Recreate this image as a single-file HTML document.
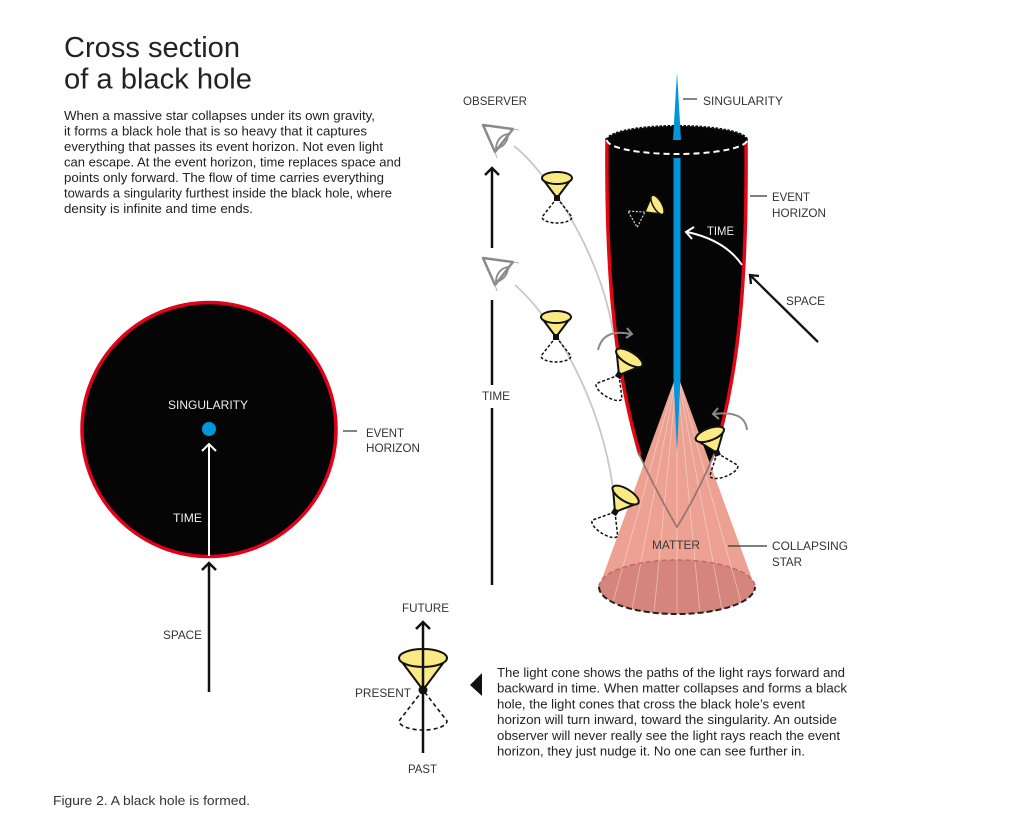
<!DOCTYPE html>
<html><head><meta charset="utf-8"><style>
html,body{margin:0;padding:0;background:#fff;}
svg{display:block;}
text{font-family:"Liberation Sans",Arial,sans-serif;}
</style></head><body>
<svg width="1024" height="816" viewBox="0 0 1024 816" xmlns="http://www.w3.org/2000/svg">
<rect width="1024" height="816" fill="#fff"/>

<!-- Title -->
<text x="64" y="57" font-size="29" fill="#222" textLength="176" lengthAdjust="spacingAndGlyphs">Cross section</text>
<text x="64" y="88.5" font-size="29" fill="#222" textLength="188" lengthAdjust="spacingAndGlyphs">of a black hole</text>

<g font-size="13" fill="#222">
<text x="64" y="120" textLength="311" lengthAdjust="spacingAndGlyphs">When a massive star collapses under its own gravity,</text>
<text x="64" y="135.5" textLength="303" lengthAdjust="spacingAndGlyphs">it forms a black hole that is so heavy that it captures</text>
<text x="64" y="151" textLength="319" lengthAdjust="spacingAndGlyphs">everything that passes its event horizon. Not even light</text>
<text x="64" y="166.5" textLength="337" lengthAdjust="spacingAndGlyphs">can escape. At the event horizon, time replaces space and</text>
<text x="64" y="182" textLength="320" lengthAdjust="spacingAndGlyphs">points only forward. The flow of time carries everything</text>
<text x="64" y="197.5" textLength="328" lengthAdjust="spacingAndGlyphs">towards a singularity furthest inside the black hole, where</text>
<text x="64" y="213" textLength="189" lengthAdjust="spacingAndGlyphs">density is infinite and time ends.</text>
</g>

<!-- Left circle -->
<circle cx="209" cy="429.5" r="127" fill="#050505" stroke="#e2001a" stroke-width="3.5"/>
<circle cx="209" cy="429" r="7" fill="#0096db"/>
<line x1="209" y1="556" x2="209" y2="445" stroke="#fff" stroke-width="2"/>
<polyline points="202,451 209,444 216,451" fill="none" stroke="#fff" stroke-width="2"/>
<line x1="209" y1="692" x2="209" y2="564" stroke="#111" stroke-width="2.5"/>
<polyline points="202,570 209,563 216,570" fill="none" stroke="#111" stroke-width="2.5"/>
<g font-size="12">
<text x="168" y="409" fill="#eee" textLength="80" lengthAdjust="spacingAndGlyphs">SINGULARITY</text>
<text x="173" y="522" fill="#eee" textLength="29" lengthAdjust="spacingAndGlyphs">TIME</text>
<text x="163" y="639" fill="#333" textLength="39" lengthAdjust="spacingAndGlyphs">SPACE</text>
<text x="366" y="437" fill="#333" textLength="38" lengthAdjust="spacingAndGlyphs">EVENT</text>
<text x="366" y="452" fill="#333" textLength="54" lengthAdjust="spacingAndGlyphs">HORIZON</text>
</g>
<line x1="343" y1="431" x2="357" y2="431" stroke="#333" stroke-width="1.2"/>

<!-- Observer column -->
<text x="463" y="105" font-size="12" fill="#333" textLength="64" lengthAdjust="spacingAndGlyphs">OBSERVER</text>
<line x1="492" y1="248" x2="492" y2="169" stroke="#111" stroke-width="2.5"/>
<polyline points="485,175 492,168 499,175" fill="none" stroke="#111" stroke-width="2.5"/>
<line x1="492" y1="300" x2="492" y2="385" stroke="#111" stroke-width="2.5"/>
<line x1="492" y1="408" x2="492" y2="585" stroke="#111" stroke-width="2.5"/>
<text x="482" y="400" font-size="12" fill="#333" textLength="28" lengthAdjust="spacingAndGlyphs">TIME</text>

<!-- Eyes -->
<g transform="translate(483,125)" fill="none" stroke="#8a8a8a">
<polygon points="0,0 30,4 12,27" stroke-width="2.5" stroke-linejoin="round"/>
<line x1="30" y1="4" x2="36" y2="5" stroke="#b0b0b0" stroke-width="1"/>
<line x1="12" y1="27" x2="14" y2="33" stroke="#b0b0b0" stroke-width="1"/>
<path d="M13,24 C13,16 18,10 25,9 C25,17 20,22 13,24 Z" stroke-width="1.8"/>
</g>
<g transform="translate(483,258)" fill="none" stroke="#8a8a8a">
<polygon points="0,0 30,4 12,27" stroke-width="2.5" stroke-linejoin="round"/>
<line x1="30" y1="4" x2="36" y2="5" stroke="#b0b0b0" stroke-width="1"/>
<line x1="12" y1="27" x2="14" y2="33" stroke="#b0b0b0" stroke-width="1"/>
<path d="M13,24 C13,16 18,10 25,9 C25,17 20,22 13,24 Z" stroke-width="1.8"/>
</g>

<!-- Black hole funnel -->
<path d="M607,140 C606,260 612,360 640,455 Q658,495 677,527 Q696,495 716,448 C742,360 747,260 746,140 Z" fill="#050505"/>
<path d="M607,138 C606,260 612,360 640,455" fill="none" stroke="#e30613" stroke-width="3.5"/>
<path d="M746,138 C747,260 742,360 716,448" fill="none" stroke="#e30613" stroke-width="3.5"/>
<ellipse cx="677" cy="140" rx="70" ry="14" fill="#050505"/>
<path d="M607,140 A70,14 0 0 1 747,140" fill="none" stroke="#111" stroke-width="2.2" stroke-dasharray="2.5,1.5"/>
<path d="M607,140 A70,14 0 0 0 747,140" fill="none" stroke="#fff" stroke-width="2" stroke-dasharray="6,4"/>

<!-- Pink collapsing star -->
<path d="M677,373 L599,587 A78,27 0 0 0 755,587 Z" fill="#eca192"/>
<ellipse cx="677" cy="587" rx="78" ry="27" fill="#d6857c"/>
<g stroke="#fff" stroke-opacity="0.4" stroke-width="0.9">
<line x1="677" y1="373" x2="613" y2="602"/>
<line x1="677" y1="373" x2="632" y2="609"/>
<line x1="677" y1="373" x2="654" y2="613"/>
<line x1="677" y1="373" x2="677" y2="614"/>
<line x1="677" y1="373" x2="700" y2="613"/>
<line x1="677" y1="373" x2="722" y2="609"/>
<line x1="677" y1="373" x2="741" y2="602"/>
</g>
<path d="M599,587 A78,27 0 0 1 755,587" fill="none" stroke="#bd6d65" stroke-width="1.5" stroke-dasharray="5,3"/>
<path d="M599,587 A78,27 0 0 0 755,587" fill="none" stroke="#222" stroke-width="2" stroke-dasharray="6,3"/>
<path d="M638,452 Q658,495 677,527 Q697,495 717,448" fill="none" stroke="#8d6e6b" stroke-width="1.8" stroke-opacity="0.85"/>

<!-- Singularity -->
<polygon points="677,72 681,140 673,140" fill="#0096db"/>
<path d="M673.5,158 L680.5,158 L680.5,378 L677,452 L673.5,378 Z" fill="#0096db"/>

<!-- Funnel labels & arrows -->
<line x1="683" y1="99" x2="697" y2="99" stroke="#333" stroke-width="1.2"/>
<text x="703" y="105" font-size="12" fill="#333" textLength="80" lengthAdjust="spacingAndGlyphs">SINGULARITY</text>
<line x1="750" y1="196" x2="767" y2="196" stroke="#333" stroke-width="1.2"/>
<text x="772" y="201" font-size="12" fill="#333" textLength="38" lengthAdjust="spacingAndGlyphs">EVENT</text>
<text x="772" y="217" font-size="12" fill="#333" textLength="54" lengthAdjust="spacingAndGlyphs">HORIZON</text>
<text x="707" y="235" font-size="12" fill="#eee" textLength="27" lengthAdjust="spacingAndGlyphs">TIME</text>
<path d="M742,265 Q725,240 687,232" fill="none" stroke="#fff" stroke-width="2"/>
<polyline points="694,227 686,232 692,239" fill="none" stroke="#fff" stroke-width="2"/>
<line x1="818" y1="342" x2="751" y2="276" stroke="#111" stroke-width="2.3"/>
<polyline points="759,276 750,275 751,284" fill="none" stroke="#111" stroke-width="2.3"/>
<text x="786" y="305" font-size="12" fill="#333" textLength="39" lengthAdjust="spacingAndGlyphs">SPACE</text>
<text x="652" y="549" font-size="12" fill="#3a3a3a" textLength="48" lengthAdjust="spacingAndGlyphs">MATTER</text>
<line x1="728" y1="546" x2="767" y2="546" stroke="#333" stroke-width="1.2"/>
<text x="772" y="550" font-size="12" fill="#333" textLength="76" lengthAdjust="spacingAndGlyphs">COLLAPSING</text>
<text x="772" y="566" font-size="12" fill="#333" textLength="30" lengthAdjust="spacingAndGlyphs">STAR</text>

<!-- Observer light paths -->
<path d="M514,146 C545,170 600,250 613,332" fill="none" stroke="#c8c8c8" stroke-width="1.8"/>
<path d="M515,285 C550,315 605,400 615,505" fill="none" stroke="#c8c8c8" stroke-width="1.8"/>

<!-- Gray curved arrows -->
<path d="M598,350 Q603,328 631,334" fill="none" stroke="#8a8a8a" stroke-width="2"/>
<polyline points="627,328 632,334 626,338" fill="none" stroke="#8a8a8a" stroke-width="2"/>
<path d="M747,430 Q745,410 714,414" fill="none" stroke="#8a8a8a" stroke-width="2"/>
<polyline points="718,408 713,414 719,419" fill="none" stroke="#8a8a8a" stroke-width="2"/>

<!-- Light cones -->
<g transform="translate(557,198)">
<path d="M0,0 L-15,19 A15,6 0 0 0 15,19 L0,0" fill="none" stroke="#111" stroke-width="1.5" stroke-dasharray="3,2"/>
<path d="M-15,-20 L0,0 L15,-20 Z" fill="#fbe983" stroke="#111" stroke-width="2" stroke-linejoin="round"/>
<ellipse cx="0" cy="-20" rx="15" ry="6" fill="#fbe983" stroke="#111" stroke-width="2"/>
<rect x="-3" y="-3" width="6" height="6" fill="#111"/>
</g>
<g transform="translate(556,337)">
<path d="M0,0 L-15,19 A15,6 0 0 0 15,19 L0,0" fill="none" stroke="#111" stroke-width="1.5" stroke-dasharray="3,2"/>
<path d="M-15,-20 L0,0 L15,-20 Z" fill="#fbe983" stroke="#111" stroke-width="2" stroke-linejoin="round"/>
<ellipse cx="0" cy="-20" rx="15" ry="6" fill="#fbe983" stroke="#111" stroke-width="2"/>
<rect x="-3" y="-3" width="6" height="6" fill="#111"/>
</g>
<g transform="translate(645,212) rotate(60) scale(0.72)">
<path d="M0,0 L-13,20 L13,20 Z" fill="none" stroke="#cfcfcf" stroke-width="1.6" stroke-dasharray="3,2"/>
<path d="M-15,-20 L0,0 L15,-20 Z" fill="#fbe983" stroke="#111" stroke-width="2" stroke-linejoin="round"/>
<ellipse cx="0" cy="-20" rx="15" ry="6" fill="#fbe983" stroke="#111" stroke-width="2"/>
</g>
<g transform="translate(619,375) rotate(31)">
<path d="M0,0 L-15,19 A15,6 0 0 0 15,19 L0,0" fill="none" stroke="#111" stroke-width="1.5" stroke-dasharray="3,2"/>
<path d="M-15,-20 L0,0 L15,-20 Z" fill="#fbe983" stroke="#111" stroke-width="2" stroke-linejoin="round"/>
<ellipse cx="0" cy="-20" rx="15" ry="6" fill="#fbe983" stroke="#111" stroke-width="2"/>
<rect x="-3" y="-3" width="6" height="6" fill="#111"/>
</g>
<g transform="translate(717,453) rotate(-21)">
<path d="M0,0 L-15,19 A15,6 0 0 0 15,19 L0,0" fill="none" stroke="#111" stroke-width="1.5" stroke-dasharray="3,2"/>
<path d="M-15,-20 L0,0 L15,-20 Z" fill="#fbe983" stroke="#111" stroke-width="2" stroke-linejoin="round"/>
<ellipse cx="0" cy="-20" rx="15" ry="6" fill="#fbe983" stroke="#111" stroke-width="2"/>
<rect x="-3" y="-3" width="6" height="6" fill="#111"/>
</g>
<g transform="translate(615,512) rotate(32)">
<path d="M0,0 L-15,19 A15,6 0 0 0 15,19 L0,0" fill="none" stroke="#111" stroke-width="1.5" stroke-dasharray="3,2"/>
<path d="M-15,-20 L0,0 L15,-20 Z" fill="#fbe983" stroke="#111" stroke-width="2" stroke-linejoin="round"/>
<ellipse cx="0" cy="-20" rx="15" ry="6" fill="#fbe983" stroke="#111" stroke-width="2"/>
<rect x="-3" y="-3" width="6" height="6" fill="#111"/>
</g>

<!-- Legend cone -->
<path d="M423,690 L399,721 A24,9 0 0 0 447,721 L423,690" fill="none" stroke="#111" stroke-width="1.6" stroke-dasharray="4,3"/>
<path d="M399,658 L423,690 L447,658 Z" fill="#fbe983" stroke="#111" stroke-width="2" stroke-linejoin="round"/>
<ellipse cx="423" cy="658" rx="24" ry="9" fill="#fbe983" stroke="#111" stroke-width="2"/>
<line x1="423" y1="753" x2="423" y2="623" stroke="#111" stroke-width="2.5"/>
<polyline points="416,629 423,622 430,629" fill="none" stroke="#111" stroke-width="2.5"/>
<circle cx="423" cy="690" r="4.5" fill="#111"/>
<g font-size="12" fill="#333">
<text x="402" y="612" textLength="47" lengthAdjust="spacingAndGlyphs">FUTURE</text>
<text x="355" y="697" textLength="56" lengthAdjust="spacingAndGlyphs">PRESENT</text>
<text x="408" y="773" textLength="29" lengthAdjust="spacingAndGlyphs">PAST</text>
</g>
<polygon points="470,685 482,673 482,696" fill="#111"/>

<g font-size="13" fill="#222">
<text x="497" y="677" textLength="348" lengthAdjust="spacingAndGlyphs">The light cone shows the paths of the light rays forward and</text>
<text x="497" y="692.7" textLength="350" lengthAdjust="spacingAndGlyphs">backward in time. When matter collapses and forms a black</text>
<text x="497" y="708.4" textLength="308" lengthAdjust="spacingAndGlyphs">hole, the light cones that cross the black hole’s event</text>
<text x="497" y="724.1" textLength="340" lengthAdjust="spacingAndGlyphs">horizon will turn inward, toward the singularity. An outside</text>
<text x="497" y="739.8" textLength="343" lengthAdjust="spacingAndGlyphs">observer will never really see the light rays reach the event</text>
<text x="497" y="755.5" textLength="308" lengthAdjust="spacingAndGlyphs">horizon, they just nudge it. No one can see further in.</text>
</g>

<text x="53" y="805" font-size="13" fill="#333" textLength="197" lengthAdjust="spacingAndGlyphs">Figure 2. A black hole is formed.</text>
</svg>
</body></html>
